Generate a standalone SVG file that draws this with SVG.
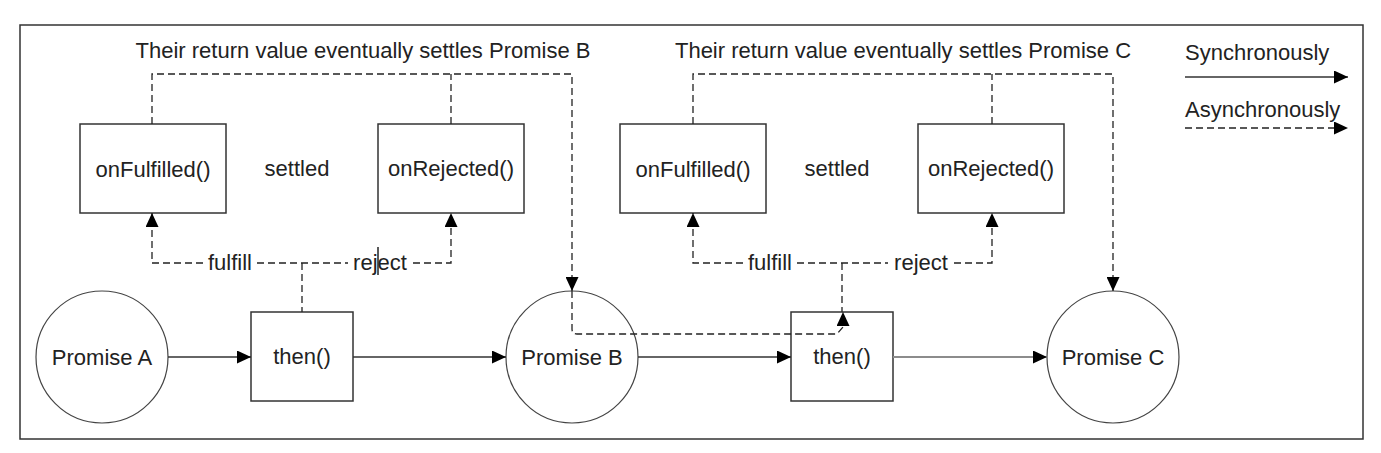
<svg xmlns="http://www.w3.org/2000/svg" width="1381" height="453" viewBox="0 0 1381 453">
<style>
text{font-family:"Liberation Sans",Arial,sans-serif;font-size:22px;fill:#222;}
.mid{text-anchor:middle;}
.box{fill:#fff;stroke:#333;stroke-width:1.5;}
.circ{fill:#fff;stroke:#444;stroke-width:1.2;}
.sync{fill:none;stroke:#333;stroke-width:1.5;}
.gray{fill:none;stroke:#8c8c8c;stroke-width:2;}
.async{fill:none;stroke:#222;stroke-width:1.3;stroke-dasharray:7 4;}
</style>
<defs>
<marker id="ah" markerUnits="userSpaceOnUse" markerWidth="14" markerHeight="13" refX="14" refY="6.5" orient="auto">
<path d="M0,0 L14,6.5 L0,13 z" fill="#000"/>
</marker>
</defs>
<rect x="0" y="0" width="1381" height="453" fill="#fff"/>
<rect id="frame" x="20" y="25" width="1343" height="414" fill="none" stroke="#333" stroke-width="1.5"/>

<g id="onFulfilled1"><rect class="box" x="80" y="124" width="146" height="89"/><text class="mid" x="153" y="177">onFulfilled()</text></g>
<g id="onRejected1"><rect class="box" x="378" y="124" width="146" height="89"/><text class="mid" x="451" y="176">onRejected()</text></g>
<g id="onFulfilled2"><rect class="box" x="620" y="124" width="146" height="89"/><text class="mid" x="693" y="177">onFulfilled()</text></g>
<g id="onRejected2"><rect class="box" x="918" y="124" width="146" height="89"/><text class="mid" x="991" y="176">onRejected()</text></g>

<g id="promiseA"><circle class="circ" cx="102" cy="357" r="66"/><text class="mid" x="102" y="365">Promise A</text></g>
<g id="then1"><rect class="box" x="251" y="312" width="102" height="89"/><text class="mid" x="302" y="364">then()</text></g>
<g id="promiseB"><circle class="circ" cx="572" cy="357" r="66"/><text class="mid" x="572" y="365">Promise B</text></g>
<g id="then2"><rect class="box" x="791" y="312" width="102" height="89"/><text class="mid" x="842" y="364">then()</text></g>
<g id="promiseC"><circle class="circ" cx="1113" cy="357" r="66"/><text class="mid" x="1113" y="365">Promise C</text></g>

<g id="connectors">
<!-- group 1 -->
<path class="async" d="M152 124 V74 H572 V291" marker-end="url(#ah)"/>
<path class="async" d="M451 124 V74"/>
<path class="async" d="M203 263 H152 V213" marker-end="url(#ah)"/>
<path class="async" d="M413 263 H451 V213" marker-end="url(#ah)"/>
<path class="async" d="M257 263 H348"/>
<path class="async" d="M302 263 V312"/>
<path class="async" d="M572 291 V329 Q572 334 577 334 H837 L843 327 L843 312" marker-end="url(#ah)"/>
<!-- group 2 -->
<path class="async" d="M693 124 V74 H1113 V291" marker-end="url(#ah)"/>
<path class="async" d="M992 124 V74"/>
<path class="async" d="M743 263 H693 V213" marker-end="url(#ah)"/>
<path class="async" d="M954 263 H992 V213" marker-end="url(#ah)"/>
<path class="async" d="M797 263 H888"/>
<path class="async" d="M842 263 V312"/>
<!-- synchronous -->
<path class="sync" d="M168 357 H251" marker-end="url(#ah)"/>
<path class="sync" d="M353 357 H506" marker-end="url(#ah)"/>
<path class="sync" d="M638 357 H791" marker-end="url(#ah)"/>
<path class="gray" d="M893 357 H1047" marker-end="url(#ah)"/>
<line x1="378" y1="247" x2="378" y2="275" stroke="#222" stroke-width="1.5"/>
</g>

<g id="labels">
<text class="mid" x="230" y="270">fulfill</text>
<text class="mid" x="380" y="270">reject</text>
<text class="mid" x="770" y="270">fulfill</text>
<text class="mid" x="921" y="270">reject</text>
<text class="mid" x="363" y="58">Their return value eventually settles Promise B</text>
<text class="mid" x="903" y="58">Their return value eventually settles Promise C</text>
<text class="mid" x="297" y="176">settled</text>
<text class="mid" x="837" y="176">settled</text>
</g>

<g id="legend">
<text x="1185" y="60">Synchronously</text>
<path class="sync" d="M1185 77 H1348" marker-end="url(#ah)"/>
<text x="1185" y="117">Asynchronously</text>
<path class="async" d="M1185 128 H1348" marker-end="url(#ah)"/>
</g>
</svg>
